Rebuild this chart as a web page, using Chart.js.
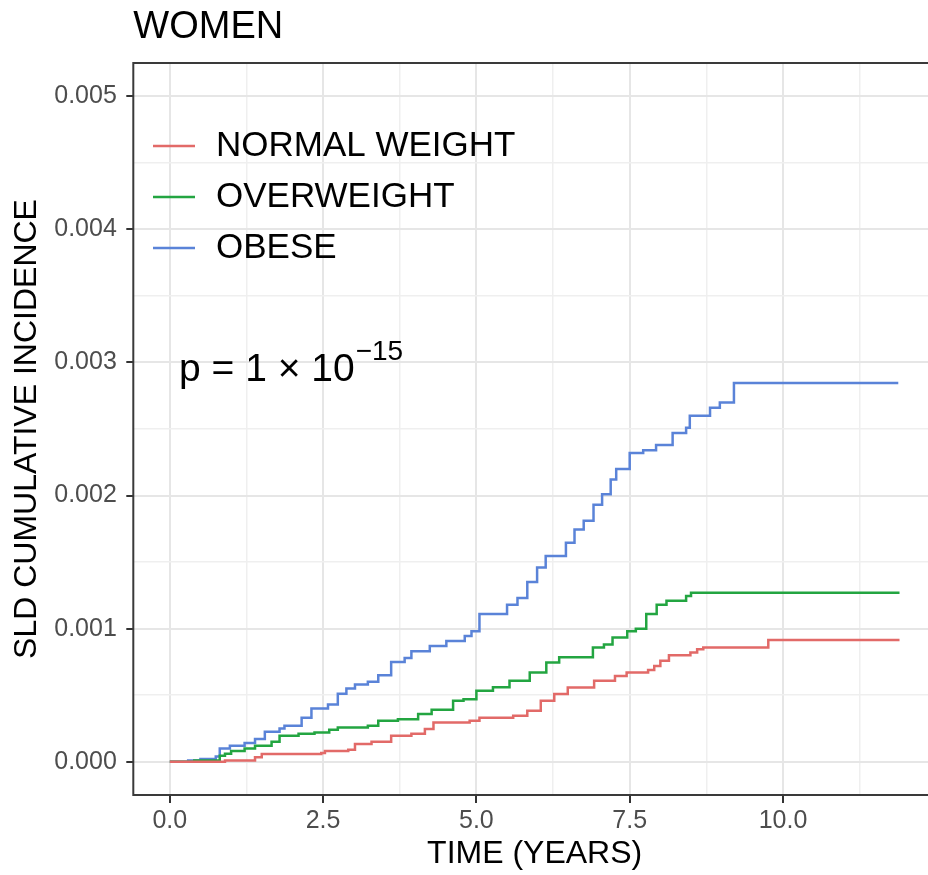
<!DOCTYPE html>
<html>
<head>
<meta charset="utf-8">
<script src="https://cdn.jsdelivr.net/npm/chart.js@4.4.1/dist/chart.umd.min.js"></script>
<style>
  html, body { margin: 0; padding: 0; background: #fff; overflow: hidden; }
  #wrap { width: 945px; height: 875px; }
</style>
</head>
<body>
<div id="wrap"><canvas id="chart" width="945" height="875"></canvas></div>
<script>
// chart text
const plotTitle = 'WOMEN';
const xTitle = 'TIME (YEARS)';
const yTitle = 'SLD CUMULATIVE INCIDENCE';
const pText = 'p = 1 × 10';
const pExp = '−15';

// series (time in years, cumulative incidence)
const groupNames = ['NORMAL WEIGHT', 'OVERWEIGHT', 'OBESE'];
const groupColors = ['#E26A68', '#23A541', '#5A83D8'];

const normalT = [0, 0.9, 1.39, 1.5, 2.47, 2.53, 2.91, 3.02, 3.29, 3.61, 3.94, 4.16, 4.3, 4.89, 5.05, 5.6, 5.83, 6.05, 6.27, 6.49, 6.92, 7.26, 7.45, 7.8, 7.9, 8.0, 8.14, 8.49, 8.6, 8.7, 9.76, 11.9];
const normalV = [0, 0.00001, 0.000033, 0.000058, 0.000065, 0.00008, 0.00009, 0.000133, 0.00015, 0.000195, 0.00021, 0.000245, 0.000295, 0.000308, 0.00033, 0.000345, 0.000383, 0.000458, 0.000508, 0.000558, 0.000608, 0.000645, 0.00067, 0.00069, 0.00072, 0.000758, 0.0008, 0.00082, 0.000845, 0.000858, 0.000915, 0.000915];

const overT = [0, 0.4, 0.815, 0.9, 1.0, 1.22, 1.39, 1.66, 1.79, 2.1, 2.36, 2.6, 2.74, 3.23, 3.4, 3.72, 4.05, 4.27, 4.62, 4.79, 5.0, 5.27, 5.54, 5.87, 6.14, 6.35, 6.9, 7.08, 7.22, 7.46, 7.6, 7.77, 7.94, 8.1, 8.42, 8.5, 11.9];
const overV = [0, 0.00001, 0.000045, 0.00006, 0.00008, 0.0001, 0.00012, 0.00015, 0.000195, 0.00021, 0.00022, 0.00024, 0.000258, 0.00027, 0.000308, 0.00032, 0.000358, 0.00039, 0.000458, 0.00047, 0.000533, 0.00056, 0.000608, 0.00067, 0.000745, 0.000785, 0.000858, 0.00088, 0.000933, 0.00098, 0.001, 0.00111, 0.00118, 0.00121, 0.001245, 0.00127, 0.00127];

const obeseT = [0, 0.3, 0.5, 0.75, 0.815, 0.98, 1.22, 1.39, 1.55, 1.79, 1.87, 2.15, 2.31, 2.58, 2.74, 2.88, 3.02, 3.23, 3.4, 3.61, 3.83, 3.94, 4.24, 4.51, 4.81, 4.92, 5.05, 5.5, 5.67, 5.83, 5.99, 6.13, 6.46, 6.6, 6.75, 6.91, 7.05, 7.19, 7.28, 7.5, 7.72, 7.93, 8.2, 8.42, 8.48, 8.81, 8.97, 9.2, 11.88];
const obeseV = [0, 0.00001, 0.00002, 0.00004, 0.0001, 0.00012, 0.00014, 0.00017, 0.000225, 0.00025, 0.00027, 0.00033, 0.0004, 0.00043, 0.00051, 0.00055, 0.00058, 0.0006, 0.00065, 0.00075, 0.00078, 0.00083, 0.00087, 0.000908, 0.000945, 0.00098, 0.00111, 0.00118, 0.00123, 0.00135, 0.00146, 0.001545, 0.001645, 0.001745, 0.00181, 0.00193, 0.00201, 0.00212, 0.0022, 0.00232, 0.00234, 0.00238, 0.00247, 0.00251, 0.0026, 0.00266, 0.0027, 0.002846, 0.002846];

// axes
const xMajorTicks = [0, 2.5, 5, 7.5, 10];
const xMinorTicks = [1.25, 3.75, 6.25, 8.75, 11.25];
const yMajorTicks = [0, 0.001, 0.002, 0.003, 0.004, 0.005];
const yMinorTicks = [0.0005, 0.0015, 0.0025, 0.0035, 0.0045];

const FONT = '"Liberation Sans", Arial, Helvetica, sans-serif';

function toPoints(ts, vs) {
    return ts.map((t, i) => ({ x: t, y: vs[i] }));
}

function allTicks(major, minor) {
    return major.concat(minor).sort((a, b) => a - b).map(v => ({ value: v }));
}

function isMajor(list, v) {
    return list.some(m => Math.abs(m - v) < 1e-9);
}

const series = [toPoints(normalT, normalV), toPoints(overT, overV), toPoints(obeseT, obeseV)];

const datasets = series.map((pts, i) => ({
    label: groupNames[i],
    data: pts,
    borderColor: groupColors[i],
    borderWidth: 2.5,
    pointRadius: 0,
    stepped: 'before',
    fill: false
}));

// title, legend, p-value and the panel border
const decorPlugin = {
    id: 'decor',
    afterDatasetsDraw(chart) {
        const ctx = chart.ctx;
        const area = chart.chartArea;
        ctx.save();

        ctx.strokeStyle = '#3a3a3a';
        ctx.lineWidth = 2;
        ctx.strokeRect(area.left, area.top, area.right - area.left, area.bottom - area.top);

        ctx.fillStyle = '#000';
        ctx.textBaseline = 'middle';
        ctx.textAlign = 'left';
        ctx.font = '38px ' + FONT;
        ctx.fillText(plotTitle, area.left, 28);

        // legend
        ctx.font = '35px ' + FONT;
        chart.data.datasets.forEach((ds, i) => {
            const y = 146 + i * 51;
            ctx.strokeStyle = ds.borderColor;
            ctx.lineWidth = 2.3;
            ctx.beginPath();
            ctx.moveTo(153, y);
            ctx.lineTo(195, y);
            ctx.stroke();
            ctx.fillStyle = '#000';
            ctx.fillText(ds.label, 216, y);
        });

        // p-value
        ctx.textBaseline = 'alphabetic';
        ctx.font = '39px ' + FONT;
        ctx.fillText(pText, 179, 381);
        const w = ctx.measureText(pText).width;
        ctx.font = '28px ' + FONT;
        ctx.fillText(pExp, 179 + w + 1, 360);

        ctx.restore();
    }
};

const ctx = document.getElementById('chart').getContext('2d');
new Chart(ctx, {
    type: 'line',
    data: { datasets: datasets },
    options: {
        responsive: false,
        animation: false,
        devicePixelRatio: 1,
        layout: { padding: { top: 63, right: 9, left: 0, bottom: 0 } },
        plugins: {
            legend: { display: false },
            tooltip: { enabled: false }
        },
        scales: {
            x: {
                type: 'linear',
                min: -0.595,
                max: 12.495,
                afterFit(scale) { scale.height = 80; },
                afterBuildTicks(scale) { scale.ticks = allTicks(xMajorTicks, xMinorTicks); },
                border: { display: false },
                grid: {
                    color: c => isMajor(xMajorTicks, c.tick.value) ? '#E6E6E6' : '#EFEFEF',
                    lineWidth: c => isMajor(xMajorTicks, c.tick.value) ? 2 : 1.5,
                    tickColor: c => isMajor(xMajorTicks, c.tick.value) ? '#333333' : 'rgba(0,0,0,0)',
                    tickWidth: 2,
                    tickLength: 8
                },
                ticks: {
                    autoSkip: false,
                    maxRotation: 0,
                    padding: 3,
                    color: '#4D4D4D',
                    font: { family: FONT, size: 25 },
                    callback: v => isMajor(xMajorTicks, v) ? v.toFixed(1) : ''
                },
                title: {
                    display: true,
                    text: xTitle,
                    color: '#000',
                    font: { family: FONT, size: 32 },
                    padding: { top: 0, bottom: 2 }
                }
            },
            y: {
                type: 'linear',
                min: -0.00025,
                max: 0.00525,
                afterFit(scale) { scale.width = 133.3; },
                afterBuildTicks(scale) { scale.ticks = allTicks(yMajorTicks, yMinorTicks); },
                border: { display: false },
                grid: {
                    color: c => isMajor(yMajorTicks, c.tick.value) ? '#E6E6E6' : '#EFEFEF',
                    lineWidth: c => isMajor(yMajorTicks, c.tick.value) ? 2 : 1.5,
                    tickColor: c => isMajor(yMajorTicks, c.tick.value) ? '#333333' : 'rgba(0,0,0,0)',
                    tickWidth: 2,
                    tickLength: 7
                },
                ticks: {
                    autoSkip: false,
                    padding: 9.5,
                    color: '#4D4D4D',
                    font: { family: FONT, size: 25 },
                    callback: v => isMajor(yMajorTicks, v) ? v.toFixed(3) : ''
                },
                title: {
                    display: true,
                    text: yTitle,
                    color: '#000',
                    font: { family: FONT, size: 32 },
                    padding: { top: 8, bottom: 0 }
                }
            }
        }
    },
    plugins: [decorPlugin]
});
</script>
</body>
</html>
